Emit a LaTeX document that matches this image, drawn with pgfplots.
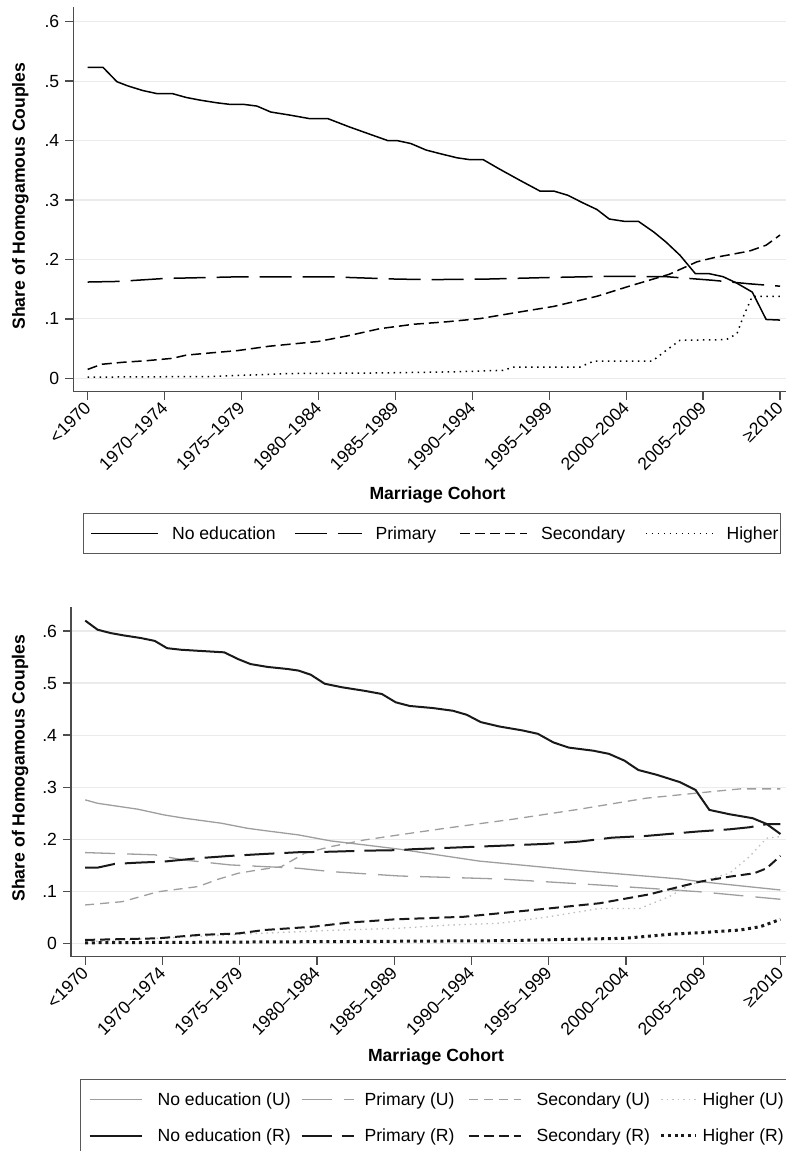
\documentclass[border=0pt]{standalone}
\usepackage{fontspec}
\setmainfont{Liberation Sans}
\usepackage{pgfplots}
\pgfplotsset{compat=1.18}
\newcommand{\fs}{\fontsize{17.6}{21}\selectfont}
\newcommand{\lt}[3]{\makebox[#1pt][l]{\hspace{#2pt}#3}}
\pgfplotsset{
  limg/.style={legend image code/.code={\draw[##1] (0pt,0pt) -- (#1pt,0pt);}},
  stata/.style={
    scale only axis,
    axis x line*=bottom, axis y line*=left,
    axis line style={black!70, line width=1.3pt},
    tick style={black!70, line width=1.3pt},
    major tick length=8pt, tick align=outside,
    ymajorgrids=true, grid style={black!8, line width=1.2pt},
    xtick={0,5,10,15,20,25,30,35,40,45},
    xticklabels={{<1970},{1970–1974},{1975–1979},{1980–1984},{1985–1989},{1990–1994},{1995–1999},{2000–2004},{2005–2009},{≥2010}},
    ytick={0,0.1,0.2,0.3,0.4,0.5,0.6},
    yticklabels={0,.1,.2,.3,.4,.5,.6},
    tick label style={font=\fs},
    xticklabel style={rotate=45, anchor=east, inner sep=0pt},
    xticklabel shift=5pt,
    label style={font=\fs\bfseries},
    xlabel={Marriage Cohort},
    ylabel={Share of Homogamous Couples},
    legend cell align=left,
    legend style={draw=black!65, line width=1.2pt, legend columns=4, column sep=0pt, row sep=17pt,
      inner ysep=10.5pt,
      nodes={inner sep=0pt, text height=15pt, text depth=4pt, font=\fs}},
  }
}
\begin{document}
\fs
\begin{tikzpicture}[x=1pt,y=1pt]
\useasboundingbox (0,0) rectangle (786,1151);
% ---------------- top panel ----------------
\begin{axis}[stata,
  at={(73.3pt,759.3pt)}, anchor=south west,
  width=712.7pt, height=384.4pt,
  xmin=-0.936, xmax=45.39, ymin=-0.0225, ymax=0.6242,
  xlabel style={at={(axis description cs:0.511,-0.2687)}, anchor=center},
  ylabel style={at={(axis description cs:-0.0743,0.509)}, anchor=center},
  legend style={at={(axis description cs:0.0136,-0.3156)}, anchor=north west, inner xsep=7pt},
]
\addplot[black, line width=1.5pt, limg=67] coordinates {
(0,0.523)(1,0.523)(1.9,0.499)(2.6,0.492)(3.6,0.484)(4.5,0.479)(5.5,0.479)(6.4,0.4725)(7.3,0.468)
(8.4,0.4635)(9.2,0.461)(10.1,0.461)(11,0.458)(11.9,0.448)(13.1,0.443)(14.4,0.437)(15.6,0.437)
(17.0,0.423)(18.3,0.411)(19.5,0.400)(20.1,0.400)(21.0,0.395)(22.0,0.384)(22.9,0.378)(24.0,0.371)
(24.8,0.368)(25.7,0.368)(26.7,0.353)(28.1,0.333)(29.4,0.315)(30.3,0.315)(31.2,0.308)(32.2,0.295)
(33.1,0.284)(33.9,0.268)(34.9,0.264)(35.8,0.264)(36.8,0.246)(37.6,0.229)(38.5,0.207)(39.5,0.176)
(40.4,0.176)(41.3,0.171)(42.2,0.160)(43.2,0.145)(44.1,0.099)(45,0.098)};
\addlegendentry{\lt{135}{13}{No education}}
\addplot[black, line width=1.5pt, dash pattern=on 32pt off 11pt, limg=67] coordinates {
(0,0.162)(2,0.163)(5,0.168)(9.4,0.1705)(16,0.1705)(20,0.167)(22.2,0.166)(26,0.167)(29.8,0.1695)
(34.1,0.1717)(37.6,0.171)(40.6,0.165)(43,0.159)(45,0.155)};
\addlegendentry{\lt{97}{13}{Primary}}
\addplot[black, line width=1.5pt, dash pattern=on 10pt off 5pt, limg=67] coordinates {
(0,0.015)(0.9,0.0236)(2.3,0.027)(3.8,0.0296)(5.5,0.0336)(6.4,0.039)(8.1,0.043)(9.7,0.0465)
(11.8,0.054)(15,0.062)(17,0.072)(19,0.0836)(21.2,0.091)(23.3,0.095)(25.5,0.1005)(27.7,0.110)
(30.3,0.121)(33.1,0.138)(35.2,0.155)(37.8,0.175)(39.6,0.196)(40.7,0.203)(43.0,0.214)(44.1,0.224)(45,0.241)};
\addlegendentry{\lt{117}{13}{Secondary}}
\addplot[black, line width=1.5pt, dash pattern=on 1.5pt off 4.5pt, limg=67] coordinates {
(0,0.002)(8,0.003)(10,0.005)(13,0.008)(19,0.009)(24,0.011)(27,0.0135)(27.7,0.019)(32,0.019)
(32.9,0.029)(36.7,0.029)(37.6,0.047)(38.5,0.064)(41.5,0.065)(42.2,0.075)(42.6,0.103)(43.2,0.138)(45,0.138)};
\addlegendentry{\lt{60}{13}{Higher}}
\end{axis}
% ---------------- bottom panel ----------------
\begin{axis}[stata,
  at={(71pt,194.3pt)}, anchor=south west,
  width=715pt, height=350pt,
  xmin=-0.92, xmax=45.36, ymin=-0.0257, ymax=0.6467,
  xlabel style={at={(axis description cs:0.5105,-0.2874)}, anchor=center},
  ylabel style={at={(axis description cs:-0.0713,0.539)}, anchor=center},
  legend style={at={(axis description cs:0.0126,-0.3494)}, anchor=north west, inner xsep=8pt},
]
\addplot[black!38, line width=1.3pt, limg=52] coordinates {
(0,0.2756)(0.8,0.269)(3.4,0.2577)(5.1,0.2467)(6.4,0.2404)(8.8,0.2308)(10.5,0.221)(11.6,0.2166)
(13.8,0.2083)(15.9,0.1967)(18.1,0.189)(20.3,0.181)(25.5,0.158)(32,0.1397)(38.5,0.1236)(39.8,0.1185)(45,0.1025)};
\addlegendentry{\lt{158}{15}{No education (U)}}
\addplot[black!38, line width=1.3pt, dash pattern=on 30pt off 12pt, limg=52] coordinates {
(0,0.1743)(4.5,0.170)(6.4,0.160)(9.4,0.1506)(13.8,0.1442)(15.9,0.1378)(20.3,0.1294)(26.8,0.1237)
(33.3,0.112)(39.8,0.099)(45,0.0846)};
\addlegendentry{\lt{113}{10}{Primary (U)}}
\addplot[black!38, line width=1.3pt, dash pattern=on 9pt off 6pt, limg=52] coordinates {
(0,0.0737)(2.4,0.080)(4.7,0.099)(7.3,0.109)(8.6,0.123)(9.9,0.1346)(11.2,0.141)(12.7,0.1474)
(14.2,0.173)(15.9,0.1858)(18.1,0.1987)(20.3,0.2083)(23.3,0.221)(27.7,0.2385)(32,0.2577)
(36.3,0.2788)(40.6,0.2916)(42.4,0.2967)(45,0.2967)};
\addlegendentry{\lt{138}{15}{Secondary (U)}}
\addplot[black!25, line width=1.3pt, dash pattern=on 1.5pt off 4pt, limg=35] coordinates {
(0,0.003)(10.5,0.018)(15.4,0.0244)(20.3,0.029)(23.5,0.035)(26.8,0.0385)(30,0.051)(33.3,0.067)
(35.9,0.067)(37.8,0.0896)(39.1,0.112)(41.7,0.1346)(43,0.1667)(44.1,0.2019)(45,0.205)};
\addlegendentry{\lt{86}{5}{Higher (U)}}
\addplot[black!90, line width=2pt, limg=52] coordinates {
(0,0.620)(0.8,0.6025)(1.65,0.596)(2.5,0.5915)(3.6,0.5865)(4.5,0.581)(5.3,0.567)(6.2,0.564)
(7.3,0.562)(9.0,0.559)(9.9,0.546)(10.7,0.5365)(11.8,0.531)(13.1,0.527)(13.8,0.524)(14.6,0.516)
(15.5,0.4987)(16.6,0.492)(18.1,0.485)(19.2,0.479)(20.1,0.463)(21.0,0.456)(22.5,0.452)(23.8,0.4468)
(24.7,0.439)(25.6,0.425)(26.8,0.4166)(28.3,0.409)(29.3,0.4025)(30.3,0.386)(31.3,0.376)(32.9,0.370)
(33.9,0.364)(34.9,0.351)(35.8,0.333)(37.0,0.3237)(38.5,0.3096)(39.5,0.2948)(40.4,0.2563)(41.7,0.248)
(43.2,0.2404)(44.1,0.2294)(45,0.21)};
\addlegendentry{\lt{158}{15}{No education (R)}}
\addplot[black!90, line width=2pt, dash pattern=on 30pt off 10pt, limg=52] coordinates {
(0,0.1454)(0.8,0.1454)(1.9,0.1525)(3.4,0.155)(5.1,0.157)(7.3,0.1635)(9.4,0.168)(11.6,0.1717)
(13.8,0.175)(15.9,0.176)(18.1,0.178)(20.3,0.179)(21.2,0.1808)(25.5,0.1858)(29.8,0.191)(32,0.1955)
(34.1,0.203)(36.3,0.2063)(39.6,0.2147)(41.7,0.219)(43,0.223)(44.1,0.2288)(45,0.2288)};
\addlegendentry{\lt{113}{10}{Primary (R)}}
\addplot[black!90, line width=2pt, dash pattern=on 10pt off 5pt, limg=52] coordinates {
(0,0.0065)(4.7,0.0096)(7.3,0.016)(9.9,0.019)(11.6,0.0256)(14.8,0.032)(17.0,0.0397)(20,0.046)
(24.5,0.051)(26.8,0.0577)(30.0,0.067)(33.3,0.077)(36.5,0.094)(38.5,0.109)(39.8,0.1185)(41.7,0.128)
(43.3,0.1346)(44.1,0.144)(45,0.168)};
\addlegendentry{\lt{138}{15}{Secondary (R)}}
\addplot[black!90, line width=3pt, dash pattern=on 3pt off 3.7pt, limg=35] coordinates {
(0,0.001)(13.8,0.003)(26.8,0.005)(34.9,0.0096)(38.1,0.018)(39.8,0.0204)(42.4,0.0256)(43.7,0.032)(45,0.046)};
\addlegendentry{\lt{84}{5}{Higher (R)}}
\end{axis}
\end{tikzpicture}
\end{document}
